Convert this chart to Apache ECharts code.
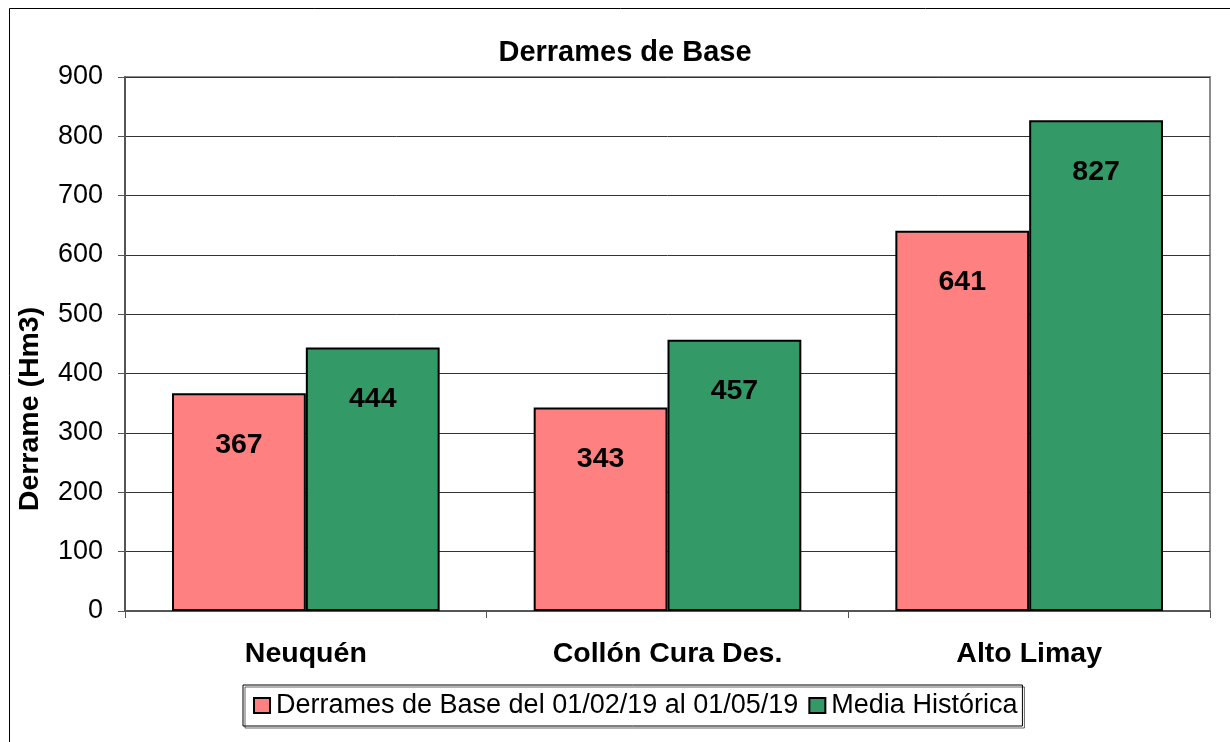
<!DOCTYPE html>
<html>
<head>
<meta charset="utf-8">
<script src="https://cdn.jsdelivr.net/npm/echarts@6/dist/echarts.min.js"></script>
<style>
  html, body { margin: 0; padding: 0; background: #fff; }
  #chart { width: 1230px; height: 742px; }
</style>
</head>
<body>
<div id="chart"></div>
<script>
// datos
var categorias = ['Neuquén', 'Collón Cura Des.', 'Alto Limay'];
var derramesBase = [367, 343, 641];
var mediaHistorica = [444, 457, 827];
var nombreSerie1 = 'Derrames de Base del 01/02/19 al 01/05/19';
var nombreSerie2 = 'Media Histórica';

var fuente = '"Liberation Sans", Arial, sans-serif';

var etiqueta = {
    show: true,
    position: 'insideTop',
    distance: 37,
    color: '#000',
    fontFamily: fuente,
    fontWeight: 'bold',
    fontSize: 28.5
};

var option = {
    animation: false,
    textStyle: { fontFamily: fuente },
    graphic: [
        {
            type: 'rect',
            shape: { x: 9.5, y: 8.5, width: 1400, height: 900 },
            style: { fill: 'none', stroke: '#000', lineWidth: 1 },
            silent: true
        }
    ],
    title: {
        text: 'Derrames de Base',
        left: 620,
        textAlign: 'center',
        top: 33,
        textStyle: { fontFamily: fuente, fontWeight: 'bold', fontSize: 29, color: '#000' }
    },
    legend: {
        data: [nombreSerie1, nombreSerie2],
        left: 243,
        top: 685,
        padding: [7, 5, 7, 10],
        itemGap: 10,
        itemWidth: 16,
        itemHeight: 15,
        icon: 'rect',
        borderColor: '#000',
        borderWidth: 1,
        shadowColor: 'rgba(0,0,0,0.6)',
        shadowOffsetX: 2,
        shadowOffsetY: 2,
        textStyle: { fontFamily: fuente, fontSize: 27, color: '#000', padding: [0, 0, 0, 1] }
    },
    grid: {
        left: 125,
        right: 20,
        top: 77,
        bottom: 131,
        show: true,
        borderColor: '#8c8c8c',
        borderWidth: 2,
        containLabel: false
    },
    xAxis: {
        type: 'category',
        data: categorias,
        axisLine: { lineStyle: { color: '#555', width: 2 } },
        axisTick: { show: true, inside: false, length: 7, alignWithLabel: false, lineStyle: { color: '#555' } },
        axisLabel: {
            color: '#000',
            fontFamily: fuente,
            fontWeight: 'bold',
            fontSize: 28.5,
            margin: 29
        }
    },
    yAxis: {
        type: 'value',
        min: 0,
        max: 900,
        interval: 100,
        name: 'Derrame (Hm3)',
        nameLocation: 'middle',
        nameGap: 80,
        nameTextStyle: {
            fontFamily: fuente,
            fontWeight: 'bold',
            fontSize: 28.5,
            color: '#000',
            padding: [0, 130, 0, 0]
        },
        axisLine: { show: true, lineStyle: { color: '#555', width: 2 } },
        axisTick: { show: true, inside: false, length: 7, lineStyle: { color: '#555' } },
        axisLabel: { color: '#000', fontFamily: fuente, fontSize: 27, margin: 22 },
        splitLine: { show: true, lineStyle: { color: '#333', width: 1 } }
    },
    series: [
        {
            name: nombreSerie1,
            type: 'bar',
            data: derramesBase,
            barGap: '0%',
            barCategoryGap: '26%',
            itemStyle: { color: '#FF8080', borderColor: '#000', borderWidth: 2 },
            label: etiqueta
        },
        {
            name: nombreSerie2,
            type: 'bar',
            data: mediaHistorica,
            itemStyle: { color: '#339966', borderColor: '#000', borderWidth: 2 },
            label: etiqueta
        }
    ]
};

var myChart = echarts.init(document.getElementById('chart'));
myChart.setOption(option);
</script>
</body>
</html>
